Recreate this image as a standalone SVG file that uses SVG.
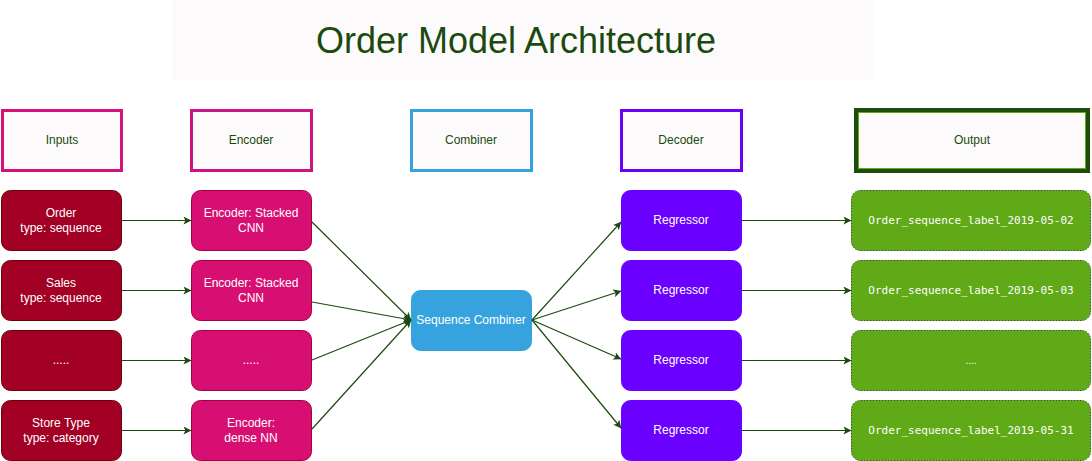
<svg xmlns="http://www.w3.org/2000/svg" width="1092" height="461" viewBox="0 0 1092 461">
<defs>
<marker id="ah" viewBox="0 0 10 10" refX="9.5" refY="5" markerWidth="8" markerHeight="8" markerUnits="userSpaceOnUse" orient="auto">
<path d="M0,0 L10,5 L0,10 L2.5,5 Z" fill="#1b4a0e"/>
</marker>
<style>
text{font-family:"Liberation Sans",Arial,sans-serif;text-anchor:middle}
.hd{fill:#fdfafc}
.ht{font-size:12px;fill:#1b4a0e}
.nt{font-size:12px;fill:#ffffff}
.mono{font-family:"DejaVu Sans Mono","Liberation Mono",monospace;font-size:11px;fill:#ffffff}
.inp{fill:#a20025;stroke:#6f0000;stroke-width:1}
.enc{fill:#d80f73;stroke:#a50040;stroke-width:1}
.cmb{fill:#36a3de;stroke:#36a3de;stroke-width:1}
.reg{fill:#6a00ff;stroke:#6a00ff;stroke-width:1}
.out{fill:#60a917;stroke:#2d5e0a;stroke-width:1;stroke-dasharray:2 1}
.c{stroke:#1b4a0e;stroke-width:1.2;fill:none;marker-end:url(#ah)}
</style>
</defs>
<rect width="1092" height="461" fill="#ffffff"/>
<g id="title">
<rect x="172" y="0" width="702" height="80" fill="#fdfafc"/>
<text x="516" y="53" style="font-size:36px;fill:#1b4a0e">Order Model Architecture</text>
</g>
<g id="hdr-inputs">
<rect x="2.5" y="110.5" width="119" height="60" class="hd" stroke="#d6127a" stroke-width="3"/>
<text x="62" y="144" class="ht">Inputs</text>
</g>
<g id="hdr-encoder">
<rect x="191.5" y="110.5" width="120" height="60" class="hd" stroke="#d6127a" stroke-width="3"/>
<rect x="192.5" y="111.5" width="118" height="58" fill="none" stroke="#8a20e0" stroke-width="1" stroke-dasharray="1 2"/>
<text x="251" y="144" class="ht">Encoder</text>
</g>
<g id="hdr-combiner">
<rect x="411.5" y="110.5" width="120" height="60" class="hd" stroke="#36a3de" stroke-width="3"/>
<text x="471" y="144" class="ht">Combiner</text>
</g>
<g id="hdr-decoder">
<rect x="621.5" y="110.5" width="120" height="60" class="hd" stroke="#6a00f5" stroke-width="3"/>
<text x="681" y="144" class="ht">Decoder</text>
</g>
<g id="hdr-output">
<rect x="856" y="110" width="232" height="61" class="hd" stroke="#1e4d0b" stroke-width="4"/>
<rect x="858.5" y="112.5" width="227" height="56" fill="none" stroke="#60a917" stroke-width="1"/>
<text x="972" y="144" class="ht">Output</text>
</g>

<g id="in-order"><rect x="1.5" y="190.5" width="120" height="60" rx="9" class="inp"/><text x="61" y="217" class="nt">Order</text><text x="61" y="232" class="nt">type: sequence</text></g>
<g id="in-sales"><rect x="1.5" y="260.5" width="120" height="60" rx="9" class="inp"/><text x="61" y="287" class="nt">Sales</text><text x="61" y="302" class="nt">type: sequence</text></g>
<g id="in-more"><rect x="1.5" y="330.5" width="120" height="60" rx="9" class="inp"/><text x="61" y="364" class="nt">.....</text></g>
<g id="in-store"><rect x="1.5" y="400.5" width="120" height="60" rx="9" class="inp"/><text x="61" y="427" class="nt">Store Type</text><text x="61" y="442" class="nt">type: category</text></g>

<g id="enc-order"><rect x="191.5" y="190.5" width="120" height="60" rx="9" class="enc"/><text x="251" y="217" class="nt">Encoder: Stacked</text><text x="251" y="232" class="nt">CNN</text></g>
<g id="enc-sales"><rect x="191.5" y="260.5" width="120" height="60" rx="9" class="enc"/><text x="251" y="287" class="nt">Encoder: Stacked</text><text x="251" y="302" class="nt">CNN</text></g>
<g id="enc-more"><rect x="191.5" y="330.5" width="120" height="60" rx="9" class="enc"/><text x="251" y="364" class="nt">.....</text></g>
<g id="enc-store"><rect x="191.5" y="400.5" width="120" height="60" rx="9" class="enc"/><text x="251" y="427" class="nt">Encoder:</text><text x="251" y="442" class="nt">dense NN</text></g>

<g id="combiner"><rect x="411.5" y="290.5" width="120" height="60" rx="9" class="cmb"/><text x="471" y="324" class="nt">Sequence Combiner</text></g>

<g id="reg1"><rect x="621.5" y="190.5" width="120" height="60" rx="9" class="reg"/><text x="681" y="224" class="nt">Regressor</text></g>
<g id="reg2"><rect x="621.5" y="260.5" width="120" height="60" rx="9" class="reg"/><text x="681" y="294" class="nt">Regressor</text></g>
<g id="reg3"><rect x="621.5" y="330.5" width="120" height="60" rx="9" class="reg"/><text x="681" y="364" class="nt">Regressor</text></g>
<g id="reg4"><rect x="621.5" y="400.5" width="120" height="60" rx="9" class="reg"/><text x="681" y="434" class="nt">Regressor</text></g>

<g id="out1"><rect x="851.5" y="190.5" width="239" height="60" rx="9" class="out"/><text x="971" y="224" class="mono">Order_sequence_label_2019-05-02</text></g>
<g id="out2"><rect x="851.5" y="260.5" width="239" height="60" rx="9" class="out"/><text x="971" y="294" class="mono">Order_sequence_label_2019-05-03</text></g>
<g id="out3"><rect x="851.5" y="330.5" width="239" height="60" rx="9" class="out"/><text x="971" y="364" class="nt" style="font-size:10px">....</text></g>
<g id="out4"><rect x="851.5" y="400.5" width="239" height="60" rx="9" class="out"/><text x="971" y="434" class="mono">Order_sequence_label_2019-05-31</text></g>

<g id="connectors">
<line x1="122" y1="220.5" x2="191" y2="220.5" class="c"/>
<line x1="122" y1="290.5" x2="191" y2="290.5" class="c"/>
<line x1="122" y1="360.5" x2="191" y2="360.5" class="c"/>
<line x1="122" y1="430.5" x2="191" y2="430.5" class="c"/>
<line x1="312" y1="222" x2="411" y2="320" class="c"/>
<line x1="312" y1="302" x2="411" y2="320" class="c"/>
<line x1="312" y1="360" x2="411" y2="320" class="c"/>
<line x1="312" y1="429" x2="411" y2="320" class="c"/>
<line x1="532" y1="320" x2="621" y2="222" class="c"/>
<line x1="532" y1="320" x2="621" y2="291" class="c"/>
<line x1="532" y1="320" x2="621" y2="359" class="c"/>
<line x1="532" y1="320" x2="621" y2="428" class="c"/>
<line x1="742" y1="220.5" x2="851" y2="220.5" class="c"/>
<line x1="742" y1="290.5" x2="851" y2="290.5" class="c"/>
<line x1="742" y1="360.5" x2="851" y2="360.5" class="c"/>
<line x1="742" y1="430.5" x2="851" y2="430.5" class="c"/>
</g>
</svg>
